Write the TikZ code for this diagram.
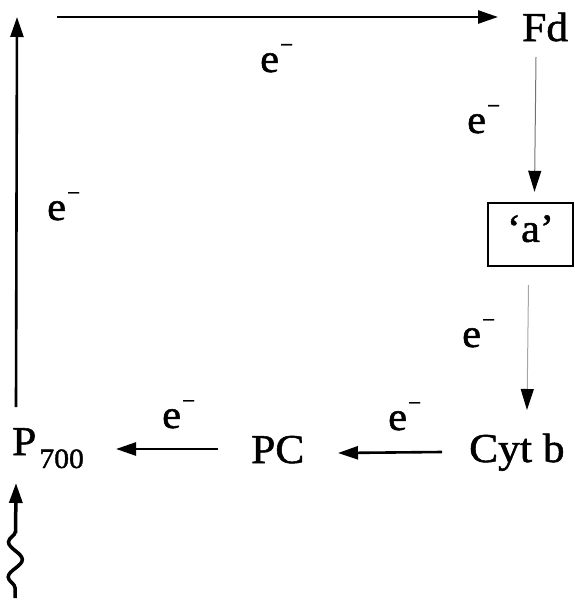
\documentclass[tikz,border=0pt]{standalone}
\usepackage{fontspec}
\setmainfont{Liberation Serif}[FakeStretch=1.06,RawFeature={embolden=1.3}]
\usetikzlibrary{arrows.meta,decorations.pathmorphing}
\newcommand\elec{e\kern1pt\raisebox{0.5em}{\fontsize{22}{22}\selectfont −}}
\begin{document}
\begin{tikzpicture}[x=1pt,y=-1pt,
  lbl/.style={inner sep=0pt, anchor=base west, font=\fontsize{41}{49}\selectfont},
  elbl/.style={inner sep=0pt, anchor=base west, font=\fontsize{40}{48}\selectfont},
  arr/.style={-{Triangle[length=20pt,width=13pt]}, line width=2.6pt},
  garr/.style={-{Triangle[length=21pt,width=13pt,color=black]}, line width=1pt},
  abox/.style={draw, line width=2.4pt, inner sep=0pt, minimum width=85pt, minimum height=63pt, font=\fontsize{40}{48}\selectfont}
]
\useasboundingbox (0,0) rectangle (575,605);
% species
\node[lbl] (fd) at (522,41) {Fd};
\node[abox] (box) at (530.5,234.5) {\raisebox{12pt}{‘a’}};
\node[lbl] (cyt) at (469,462) {Cyt b};
\node[lbl] (pc) at (251,463) {PC};
\node[lbl] (p7) at (12,455) {P\kern3pt\raisebox{-13pt}{\fontsize{28}{28}\selectfont 700}};
% electron labels
\node[elbl] (e1) at (260,72) {\elec};
\node[elbl] (e2) at (47,220) {\elec};
\node[elbl] (e3) at (467,133) {\elec};
\node[elbl] (e4) at (462,347) {\elec};
\node[elbl] (e5) at (388,430) {\elec};
\node[elbl] (e6) at (162,428) {\elec};
% free ends
\coordinate (tl) at (17,17);
\coordinate (ts) at (57,17);
\coordinate (wb) at (15,598);
% connectors
\draw[arr] ([xshift=4pt,yshift=48pt]p7.base west) -- (tl);
\draw[arr] (ts) -- ([xshift=-24pt,yshift=24pt]fd.base west);
\draw[garr, draw=black!55] ([xshift=14pt,yshift=-16pt]fd.base west) -- ([xshift=4pt,yshift=10pt]box.north);
\draw[garr, draw=black!35] ([xshift=-2pt,yshift=-18pt]box.south) -- ([xshift=58pt,yshift=52pt]cyt.base west);
\draw[arr] ([xshift=-27pt,yshift=10pt]cyt.base west) -- ([xshift=87pt,yshift=10pt]pc.base west);
\draw[arr] ([xshift=-33pt,yshift=14pt]pc.base west) -- ([xshift=104pt,yshift=6pt]p7.base west);
\draw[arr, line width=3.5pt, decorate, decoration={snake, amplitude=7pt, segment length=35pt, pre length=10pt, post length=35pt}] (wb) -- ([xshift=4pt,yshift=-28pt]p7.base west);
\end{tikzpicture}
\end{document}
